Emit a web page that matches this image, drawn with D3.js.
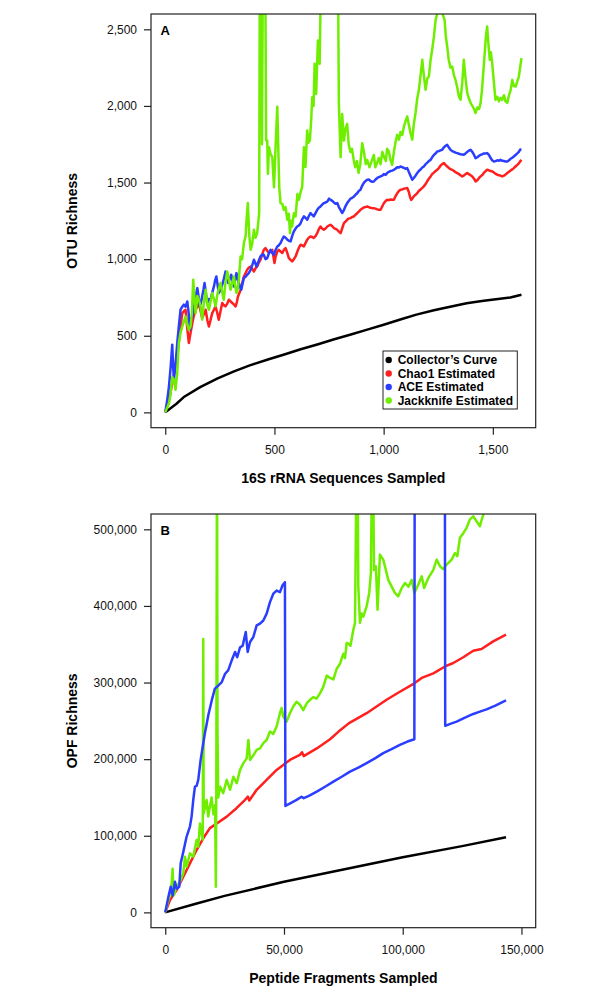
<!DOCTYPE html>
<html>
<head>
<meta charset="utf-8">
<script src="https://cdn.jsdelivr.net/npm/d3@7"></script>
<style>
  body { margin: 0; background: #fff; }
  svg { display: block; font-family: "Liberation Sans", Arial, Helvetica, sans-serif; }
</style>
</head>
<body>
<svg id="chart" width="600" height="1000"></svg>
<script>
// ---- data ----
const seriesNames = ["Collector\u2019s Curve", "Chao1 Estimated", "ACE Estimated", "Jackknife Estimated"];

// Panel A: 16S rRNA sequences sampled vs OTU richness
const aXLim = [0, 1631];
const aYLim = [0, 2500];
const aXTicks = [0, 500, 1000, 1500];
const aYTicks = [0, 500, 1000, 1500, 2000, 2500];

const aCollector = [[0,0],[20,22],[50,55],[85,100],[160,165],[240,222],[315,268],[390,308],[470,345],[545,378],[620,412],[700,445],[770,476],[850,508],[925,540],[1000,572],[1080,608],[1150,638],[1230,666],[1310,691],[1380,712],[1450,727],[1505,737],[1580,750],[1631,768]];

const aChao1 = [[0,0],[20,100],[40,250],[55,380],[62,453],[70,560],[78,648],[85,660],[93,670],[100,560],[108,453],[116,520],[124,583],[131,630],[139,670],[147,690],[154,714],[162,660],[169,616],[177,640],[185,670],[193,600],[200,561],[207,600],[215,648],[223,670],[230,692],[238,650],[245,605],[253,660],[261,714],[268,700],[276,692],[284,710],[291,735],[299,725],[307,714],[314,705],[322,692],[328,720],[333,757],[340,780],[345,800],[352,840],[360,887],[368,910],[375,931],[383,945],[391,952],[398,935],[406,920],[413,940],[421,952],[428,975],[436,996],[444,1030],[451,1060],[459,1072],[467,1055],[475,1040],[482,1050],[490,1061],[495,1020],[500,975],[506,1020],[513,1050],[520,1061],[528,1050],[536,1040],[543,1060],[551,1072],[559,1040],[566,1007],[574,995],[581,985],[589,1000],[597,1018],[605,1050],[612,1075],[620,1094],[627,1090],[635,1083],[642,1105],[650,1127],[657,1140],[665,1148],[672,1145],[680,1138],[688,1150],[696,1170],[703,1195],[711,1213],[718,1200],[726,1192],[734,1200],[742,1213],[750,1220],[757,1224],[765,1215],[772,1203],[780,1198],[787,1192],[795,1180],[803,1170],[810,1200],[818,1235],[825,1245],[833,1257],[840,1265],[848,1268],[856,1275],[864,1279],[871,1290],[879,1300],[886,1310],[894,1322],[902,1330],[910,1338],[917,1340],[925,1344],[932,1340],[940,1335],[948,1333],[955,1333],[963,1330],[971,1325],[978,1322],[986,1322],[994,1345],[1001,1365],[1009,1380],[1016,1387],[1024,1385],[1031,1390],[1039,1388],[1047,1387],[1054,1410],[1062,1430],[1070,1445],[1077,1453],[1085,1455],[1093,1460],[1100,1462],[1108,1464],[1115,1440],[1120,1410],[1126,1387],[1131,1395],[1138,1410],[1146,1420],[1154,1431],[1161,1445],[1169,1455],[1177,1465],[1184,1475],[1192,1490],[1200,1510],[1207,1525],[1215,1540],[1222,1555],[1230,1565],[1238,1575],[1245,1583],[1253,1595],[1260,1610],[1268,1620],[1276,1627],[1283,1615],[1291,1605],[1298,1595],[1306,1588],[1314,1583],[1322,1575],[1329,1568],[1337,1562],[1345,1555],[1352,1548],[1360,1540],[1367,1545],[1375,1555],[1383,1562],[1390,1555],[1398,1548],[1406,1540],[1414,1525],[1421,1507],[1429,1515],[1437,1530],[1444,1540],[1452,1550],[1460,1565],[1467,1575],[1474,1583],[1482,1580],[1490,1575],[1497,1573],[1505,1565],[1512,1558],[1520,1551],[1528,1548],[1535,1545],[1543,1540],[1551,1545],[1558,1552],[1566,1562],[1574,1570],[1581,1578],[1589,1586],[1596,1594],[1604,1605],[1612,1615],[1619,1625],[1625,1638],[1631,1648]];

const aACE = [[0,0],[10,90],[17,170],[25,300],[32,442],[36,300],[40,213],[48,330],[55,453],[62,560],[70,670],[78,690],[85,703],[93,690],[101,724],[107,650],[113,539],[118,600],[124,626],[131,700],[139,757],[147,811],[152,760],[158,692],[164,720],[169,757],[175,800],[180,844],[186,780],[192,714],[200,740],[207,735],[215,780],[223,822],[228,860],[234,887],[240,830],[245,779],[253,800],[261,833],[268,870],[276,920],[282,880],[288,844],[295,870],[302,898],[308,860],[314,822],[320,870],[326,909],[331,870],[337,844],[343,820],[348,800],[354,840],[360,877],[368,885],[375,898],[383,910],[391,931],[398,960],[406,996],[412,975],[418,952],[428,990],[436,1018],[444,1030],[451,1029],[459,1000],[467,1007],[475,1040],[482,1061],[490,1040],[497,1029],[505,1060],[513,1083],[520,1090],[528,1105],[536,1130],[543,1148],[551,1140],[559,1127],[566,1120],[574,1116],[581,1150],[589,1181],[597,1200],[604,1213],[612,1220],[620,1235],[627,1260],[635,1279],[642,1270],[650,1257],[657,1280],[665,1301],[672,1290],[680,1279],[688,1300],[696,1322],[703,1335],[711,1344],[718,1355],[726,1366],[734,1370],[742,1376],[750,1395],[757,1387],[765,1380],[772,1370],[780,1361],[788,1366],[795,1340],[803,1320],[810,1301],[818,1320],[825,1345],[833,1366],[840,1380],[848,1395],[856,1400],[864,1409],[871,1420],[879,1430],[886,1445],[894,1453],[902,1480],[910,1500],[917,1510],[925,1518],[932,1520],[940,1510],[948,1505],[955,1507],[963,1520],[971,1530],[978,1535],[986,1540],[994,1545],[1001,1555],[1009,1550],[1016,1562],[1024,1570],[1031,1575],[1039,1578],[1047,1583],[1054,1590],[1062,1600],[1070,1598],[1077,1605],[1085,1600],[1093,1596],[1100,1590],[1108,1594],[1115,1570],[1123,1545],[1131,1518],[1138,1530],[1146,1545],[1154,1562],[1161,1575],[1169,1585],[1177,1598],[1184,1605],[1192,1620],[1200,1630],[1207,1640],[1215,1648],[1222,1665],[1230,1680],[1238,1690],[1245,1703],[1253,1705],[1260,1710],[1268,1714],[1276,1730],[1283,1740],[1291,1746],[1298,1730],[1306,1714],[1314,1705],[1322,1700],[1329,1695],[1337,1692],[1345,1688],[1352,1685],[1360,1683],[1367,1681],[1375,1690],[1383,1700],[1390,1708],[1398,1714],[1406,1700],[1414,1680],[1421,1659],[1429,1665],[1437,1675],[1444,1681],[1452,1685],[1460,1690],[1467,1690],[1474,1692],[1482,1680],[1490,1660],[1497,1645],[1505,1637],[1512,1640],[1520,1645],[1528,1642],[1535,1648],[1543,1642],[1551,1640],[1558,1638],[1566,1637],[1574,1645],[1581,1655],[1589,1662],[1596,1670],[1604,1680],[1612,1690],[1619,1700],[1625,1715],[1631,1714]];

const aJackknife = [[0,0],[17,60],[24,115],[32,230],[40,213],[47,148],[55,260],[62,453],[70,520],[78,561],[93,626],[100,580],[108,539],[116,561],[122,650],[128,866],[139,648],[147,760],[154,735],[162,690],[169,605],[177,720],[185,800],[193,700],[200,670],[207,720],[215,779],[223,740],[230,692],[240,780],[253,844],[260,790],[268,735],[276,850],[284,920],[292,860],[299,800],[307,840],[314,887],[320,830],[326,779],[331,800],[337,866],[345,1018],[352,1000],[360,1105],[368,1150],[372,1250],[378,1366],[385,1150],[391,1061],[398,1100],[406,1192],[413,1140],[421,1170],[430,1300],[433,2900],[440,2900],[443,1750],[447,2900],[458,2900],[462,1774],[467,1774],[470,1557],[475,1731],[482,1688],[490,1666],[498,1470],[505,1731],[513,1994],[518,1700],[522,1470],[528,1366],[536,1361],[543,1322],[551,1340],[559,1257],[566,1296],[571,1170],[576,1250],[581,1213],[589,1300],[597,1279],[605,1425],[612,1387],[620,1440],[627,1470],[635,1731],[642,1601],[650,1840],[656,1760],[662,1774],[668,1900],[673,2057],[679,2000],[684,2275],[691,2079],[699,2427],[707,2275],[711,2650],[720,2900],[780,2900],[792,2650],[795,2014],[803,1666],[810,1948],[818,1774],[825,1850],[833,1883],[840,1750],[848,1700],[855,1720],[863,1647],[870,1600],[878,1640],[885,1563],[893,1620],[902,1757],[910,1700],[918,1620],[925,1647],[935,1600],[945,1640],[955,1680],[962,1600],[970,1627],[978,1660],[986,1620],[994,1700],[1001,1670],[1010,1640],[1016,1720],[1024,1703],[1031,1650],[1039,1616],[1047,1700],[1054,1760],[1062,1811],[1070,1780],[1077,1830],[1085,1810],[1093,1866],[1100,1900],[1108,1931],[1115,1880],[1123,1823],[1131,1780],[1138,1880],[1146,1954],[1154,2050],[1161,2100],[1169,2200],[1177,2301],[1184,2200],[1192,2105],[1200,2180],[1207,2192],[1215,2300],[1222,2366],[1230,2450],[1238,2562],[1245,2600],[1253,2630],[1262,2640],[1270,2600],[1279,2562],[1285,2450],[1291,2388],[1298,2300],[1306,2250],[1314,2257],[1322,2200],[1329,2170],[1337,2120],[1345,2060],[1352,2040],[1360,2150],[1367,2301],[1375,2180],[1383,2084],[1390,2050],[1398,2020],[1406,2000],[1414,1980],[1421,1954],[1429,1990],[1437,1980],[1444,2020],[1450,2100],[1456,2214],[1463,2350],[1468,2450],[1474,2518],[1480,2400],[1486,2301],[1491,2350],[1497,2279],[1505,2150],[1512,2040],[1520,2060],[1528,2030],[1535,2053],[1543,2040],[1551,2070],[1558,2030],[1566,2020],[1574,2070],[1581,2100],[1589,2170],[1596,2130],[1604,2127],[1612,2160],[1619,2192],[1625,2250],[1631,2312]];

// Panel B: peptide fragments sampled vs OPF richness
const bXLim = [0, 150000];
const bYLim = [0, 500000];
const bXTicks = [0, 50000, 100000, 150000];
const bYTicks = [0, 100000, 200000, 300000, 400000, 500000];

const bCollector = [[0,0],[12500,11000],[25000,21500],[50000,40000],[75000,56000],[100000,72000],[125000,86500],[143500,98000]];

const bChao1 = [[0,0],[2000,16000],[4800,29000],[7600,46500],[10400,64000],[13200,81400],[16000,96700],[18800,110000],[21700,116000],[25900,125000],[30000,136000],[33600,146800],[34800,151000],[35400,146000],[38500,160000],[42700,173000],[46900,186000],[49700,192500],[52500,199000],[56700,205600],[57600,209000],[58300,204000],[63800,214000],[69400,226000],[73000,236000],[77400,247000],[84800,260000],[93200,277500],[98800,288000],[104900,299000],[108000,306000],[112900,312000],[117800,321000],[121300,325500],[125500,333000],[129700,341600],[133200,343800],[138100,353700],[143500,362500]];

const bACE = [[0,0],[1300,20000],[2300,33500],[3100,22000],[4100,40000],[4800,31000],[5900,33500],[6500,64000],[7600,79000],[9000,99000],[10400,112000],[11100,125000],[11800,147000],[12500,164000],[13200,165000],[13900,173000],[14900,199000],[15800,216500],[16700,234000],[17400,245000],[18100,257000],[19600,277000],[20900,292000],[22300,296000],[23800,300600],[25200,311500],[26500,315800],[28000,329000],[29400,339900],[30300,333000],[31500,346000],[32600,348000],[33900,366000],[34700,340000],[35700,353000],[37100,359500],[38500,374600],[39900,377000],[41300,381000],[42700,390000],[44100,405000],[45500,416000],[46900,420000],[48300,418000],[49400,427000],[50400,431000],[50600,139000],[53000,143000],[55300,146800],[57400,151000],[58300,149000],[60500,152000],[63800,157600],[67300,164000],[70800,170700],[74300,177000],[77800,183800],[81300,189000],[84800,194800],[88300,201000],[91800,207800],[95300,213000],[98800,218700],[102000,223000],[104900,226000],[105100,700000],[117700,700000],[117900,243500],[120000,246000],[122700,249000],[126000,254000],[129700,259000],[132500,262000],[135300,265000],[139000,270000],[143500,276600]];

const bJackknife = [[0,0],[1300,16000],[2500,28000],[3100,57000],[3500,22000],[4800,33500],[6200,40000],[7600,51000],[8300,72700],[9000,59600],[10400,77000],[11800,72700],[13200,94500],[13900,85800],[14600,116000],[15300,103000],[15800,95000],[16000,357000],[16200,129000],[17400,146800],[18100,125000],[18800,138000],[19500,150000],[20300,128000],[21000,140000],[21300,33500],[21500,160000],[21800,650000],[22000,240000],[22300,150000],[23100,164000],[24400,155600],[25900,173000],[27300,160000],[28700,177000],[30100,168600],[31500,186000],[32900,194800],[34300,201000],[35000,225000],[35700,199000],[37100,205000],[38500,212000],[39900,214000],[41300,221000],[42700,225000],[44100,236000],[45500,233000],[46900,242600],[48300,260000],[49000,266700],[49700,255700],[51100,249000],[52500,260000],[53900,268800],[55300,275000],[56700,271000],[58100,264000],[59600,273000],[61000,277500],[62300,281000],[63700,279000],[65000,285000],[66500,294000],[68000,309000],[69400,306000],[70800,304000],[72200,318000],[73600,324600],[75000,337600],[75700,332000],[76400,351600],[77100,350700],[78000,348000],[79200,369000],[79900,377800],[80600,600000],[81000,600000],[81300,425600],[82000,378000],[82700,390000],[83400,386000],[84800,399500],[85900,417000],[86600,443000],[87100,600000],[87500,600000],[87900,447000],[88700,451800],[89400,395000],[90400,467000],[91800,460500],[92900,447000],[93900,434000],[95300,425600],[96700,417000],[98100,412500],[99600,423500],[101000,430000],[102400,425000],[103800,434000],[104900,417000],[106600,428000],[108000,438700],[109000,423500],[110800,436600],[112900,447000],[114300,460500],[115700,451800],[117000,448000],[118500,454000],[120600,460500],[122000,469000],[123000,465000],[124100,489000],[125500,495000],[126900,502000],[128300,513000],[129700,517000],[131100,510600],[132500,504000],[133200,512000],[133900,519000],[134600,525000],[136000,545000]];

// ---- styling ----
const colors = ["#000000", "#FF1F1F", "#2B3EFF", "#6FEE00"];
const left = 151, right = 535.7;
const svg = d3.select("#chart");
const fmt = d3.format(",");

// R-style 4% axis expansion
function expand(lim) {
  const d = (lim[1] - lim[0]) * 0.04;
  return [lim[0] - d, lim[1] + d];
}

function drawPanel(p) {
  const x = d3.scaleLinear().domain(expand(p.xLim)).range([left, right]);
  const y = d3.scaleLinear().domain(expand(p.yLim)).range([p.bottom, p.top]);

  svg.append("clipPath").attr("id", "clip" + p.label)
    .append("rect")
    .attr("x", left).attr("y", p.top)
    .attr("width", right - left).attr("height", p.bottom - p.top);

  const line = d3.line()
    .x(d => x(d[0]))
    .y(d => y(d[1]));

  const g = svg.append("g").attr("clip-path", "url(#clip" + p.label + ")");
  p.order.forEach(i => {
    g.append("path")
      .datum(p.series[i])
      .attr("d", line)
      .attr("fill", "none")
      .attr("stroke", colors[i])
      .attr("stroke-width", 2.5)
      .attr("stroke-linejoin", "round");
  });

  // box
  svg.append("rect")
    .attr("x", left).attr("y", p.top)
    .attr("width", right - left).attr("height", p.bottom - p.top)
    .attr("fill", "none").attr("stroke", "#222").attr("stroke-width", 1.2);

  // x axis
  const xa = svg.append("g")
    .attr("transform", "translate(0," + p.bottom + ")")
    .call(d3.axisBottom(x).tickValues(p.xTicks).tickFormat(fmt).tickSize(7).tickPadding(11));
  // y axis
  const ya = svg.append("g")
    .attr("transform", "translate(" + left + ",0)")
    .call(d3.axisLeft(y).tickValues(p.yTicks).tickFormat(fmt).tickSize(7).tickPadding(7));
  [xa, ya].forEach(a => {
    a.select(".domain").remove();
    a.selectAll(".tick line").attr("stroke", "#222").attr("stroke-width", 1.2);
    a.selectAll(".tick text").attr("font-size", 12).attr("fill", "#111")
      .attr("font-family", "'Liberation Sans', Arial, sans-serif");
  });

  // axis titles
  svg.append("text")
    .attr("x", (left + right) / 2).attr("y", p.bottom + 55)
    .attr("text-anchor", "middle")
    .attr("font-size", 14).attr("font-weight", "bold")
    .text(p.xTitle);
  svg.append("text")
    .attr("transform", "translate(76.5," + (p.top + p.bottom) / 2 + ") rotate(-90)")
    .attr("text-anchor", "middle")
    .attr("font-size", 14).attr("font-weight", "bold")
    .text(p.yTitle);

  // panel letter
  svg.append("text")
    .attr("x", left + 9.5).attr("y", p.top + 20.5)
    .attr("font-size", 13).attr("font-weight", "bold")
    .text(p.label);

  return { x, y };
}

drawPanel({
  label: "A", top: 14, bottom: 427.7,
  xLim: aXLim, yLim: aYLim, xTicks: aXTicks, yTicks: aYTicks,
  series: [aCollector, aChao1, aACE, aJackknife], order: [0, 1, 2, 3],
  xTitle: "16S rRNA Sequences Sampled", yTitle: "OTU Richness"
});

drawPanel({
  label: "B", top: 514, bottom: 927.7,
  xLim: bXLim, yLim: bYLim, xTicks: bXTicks, yTicks: bYTicks,
  series: [bCollector, bChao1, bACE, bJackknife], order: [0, 1, 3, 2],
  xTitle: "Peptide Fragments Sampled", yTitle: "OPF Richness"
});

// legend (panel A, bottom right)
const lg = svg.append("g").attr("transform", "translate(383,351)");
lg.append("rect")
  .attr("width", 134.3).attr("height", 58)
  .attr("fill", "#fff").attr("stroke", "#222").attr("stroke-width", 1);
seriesNames.forEach((name, i) => {
  const row = lg.append("g").attr("transform", "translate(0," + (9 + i * 13.5) + ")");
  row.append("circle").attr("cx", 5.7).attr("cy", 0).attr("r", 3.2).attr("fill", colors[i]);
  row.append("text").attr("x", 14.7).attr("y", 0).attr("dy", "0.35em")
    .attr("font-size", 12).attr("font-weight", "bold").text(name);
});
</script>
</body>
</html>
